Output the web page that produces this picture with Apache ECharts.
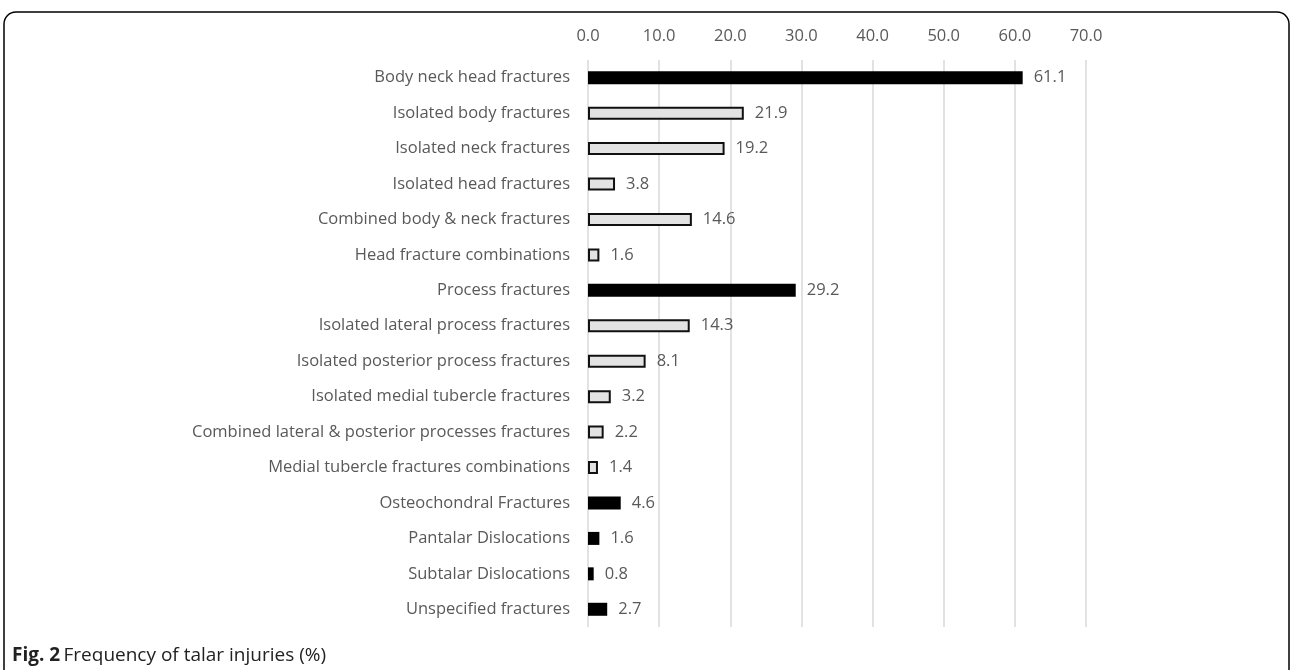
<!DOCTYPE html>
<html>
<head>
<meta charset="utf-8">
<script src="https://cdn.jsdelivr.net/npm/echarts@6/dist/echarts.min.js"></script>
<style>
  html, body { margin: 0; padding: 0; background: #fff; }
  #chart { width: 1290px; height: 670px; }
</style>
</head>
<body>
<div id="chart"></div>
<script>
// Injury categories, top to bottom
const categories = [
  'Body neck head fractures',
  'Isolated body fractures',
  'Isolated neck fractures',
  'Isolated head fractures',
  'Combined body & neck fractures',
  'Head fracture combinations',
  'Process fractures',
  'Isolated lateral process fractures',
  'Isolated posterior process fractures',
  'Isolated medial tubercle fractures',
  'Combined lateral & posterior processes fractures',
  'Medial tubercle fractures combinations',
  'Osteochondral Fractures',
  'Pantalar Dislocations',
  'Subtalar Dislocations',
  'Unspecified fractures'
];

// Frequency in percent
const values = [61.1, 21.9, 19.2, 3.8, 14.6, 1.6, 29.2, 14.3, 8.1, 3.2, 2.2, 1.4, 4.6, 1.6, 0.8, 2.7];

// 'main' = group total (solid black), 'sub' = subgroup (light outlined)
const kinds = ['main', 'sub', 'sub', 'sub', 'sub', 'sub', 'main', 'sub', 'sub', 'sub', 'sub', 'sub', 'main', 'main', 'main', 'main'];

// Axis ticks
const axisMin = 0, axisMax = 70, axisStep = 10;

const FONT = '"Open Sans", "Noto Sans", sans-serif';
const TEXT = '#595959';
const SIZE = 16.5;

const styles = {
  main: { color: '#000000', borderColor: '#000000', borderWidth: 0 },
  sub:  { color: '#e3e3e3', borderColor: '#111111', borderWidth: 2 }
};

const chart = echarts.init(document.getElementById('chart'), null, { renderer: 'canvas' });

chart.setOption({
  backgroundColor: '#ffffff',
  animation: false,
  grid: { left: 588, right: 204, top: 60, bottom: 43, containLabel: false },
  xAxis: {
    type: 'value',
    position: 'top',
    min: axisMin,
    max: axisMax,
    interval: axisStep,
    axisLine: { show: false },
    axisTick: { show: false },
    axisLabel: {
      margin: 15,
      color: TEXT,
      fontFamily: FONT,
      fontSize: SIZE,
      formatter: v => v.toFixed(1)
    },
    splitLine: { show: true, lineStyle: { color: '#d9d9d9', width: 1.5 } }
  },
  yAxis: {
    type: 'category',
    inverse: true,
    data: categories,
    axisLine: { show: false },
    axisTick: { show: false },
    axisLabel: {
      margin: 18,
      color: TEXT,
      fontFamily: FONT,
      fontSize: SIZE
    }
  },
  series: [{
    type: 'bar',
    barWidth: 13,
    data: values.map((v, i) => ({ value: v, itemStyle: styles[kinds[i]] })),
    label: {
      show: true,
      position: 'right',
      distance: 11,
      color: TEXT,
      fontFamily: FONT,
      fontSize: SIZE,
      formatter: p => p.value.toFixed(1)
    }
  }],
  graphic: [
    {
      type: 'rect',
      shape: { x: 4, y: 12, width: 1285, height: 720, r: 12 },
      style: { fill: 'none', stroke: '#000000', lineWidth: 1.5 },
      silent: true
    },
    {
      type: 'text',
      left: 12,
      top: 646,
      style: {
        rich: {
          b: { fontWeight: 'bold', fontSize: 19, fontFamily: FONT, fill: '#222' },
          n: { fontSize: 19, fontFamily: FONT, fill: '#222' }
        },
        text: '{b|Fig. 2} {n|Frequency of talar injuries (%)}'
      }
    }
  ]
});
</script>
</body>
</html>
